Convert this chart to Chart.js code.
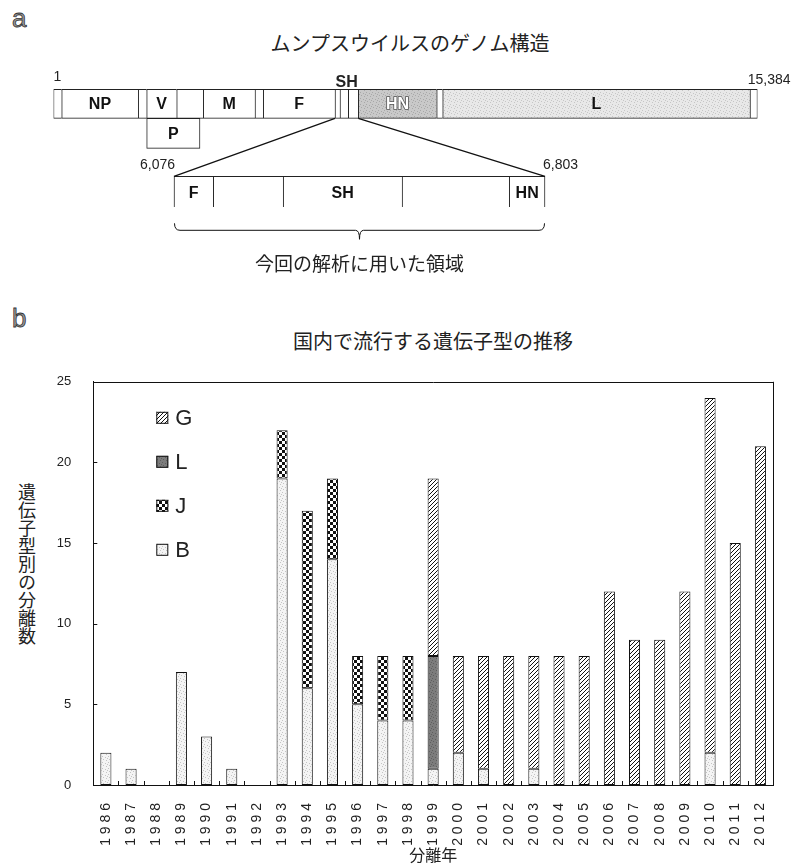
<!DOCTYPE html>
<html lang="ja">
<head>
<meta charset="utf-8">
<title>ムンプスウイルスのゲノム構造 / 国内で流行する遺伝子型の推移</title>
<script src="https://cdn.jsdelivr.net/npm/chart.js@4.4.1/dist/chart.umd.min.js"></script>
<style>
  body { margin: 0; background: #fff; }
  #page { position: relative; width: 791px; height: 867px; overflow: hidden; background: #fff;
          font-family: "Noto Sans CJK JP", "Noto Sans", sans-serif; color: #222; }
  .panel-letter { position: absolute; left: 12px; line-height: 1; font: 26px "Liberation Sans", sans-serif;
                  color: #999; -webkit-text-stroke: 0.8px #333; }
  .title { position: absolute; font-size: 20px; line-height: 1; white-space: nowrap; transform: translateX(-50%); }
  canvas { position: absolute; left: 0; }
  #ylabel { position: absolute; left: 18px; top: 483px; writing-mode: vertical-rl; font-size: 18px; line-height: 1; }
</style>
</head>
<body>
<div id="page">
  <div class="panel-letter" style="top:3px">a</div>
  <div class="title" style="left:410px; top:33px">ムンプスウイルスのゲノム構造</div>
  <canvas id="genome" width="791" height="250" style="top:50px"></canvas>

  <div class="panel-letter" style="top:303px">b</div>
  <div class="title" style="left:433px; top:331px">国内で流行する遺伝子型の推移</div>
  <div id="ylabel">遺伝子型別の分離数</div>
  <canvas id="types" width="791" height="507" style="top:360px"></canvas>
</div>

<script>
// ---------------- panel a : genome map (positions in nt) ----------------
const genomeLength = 15384;
const genomeBounds = [1, 180, 1853, 2037, 2693, 3274, 4404, 4585, 6152, 6261, 6443, 6661, 8374, 8505, 15220, 15384];
const genomeNames  = ['', 'NP', '', 'V', '', 'M', '', 'F', '', '', '', 'HN', '', 'L', ''];
const pGene = [2037, 3202];
const regionBounds = [6076, 6153, 6290, 6523, 6733, 6803];
const regionNames  = ['F', '', 'SH', '', 'HN'];
const mapRows = ['genome', 'P', '', 'region'];

// ---------------- panel b : genotypes per year ----------------
const years = ['1986','1987','1988','1989','1990','1991','1992','1993','1994','1995','1996','1997','1998','1999',
               '2000','2001','2002','2003','2004','2005','2006','2007','2008','2009','2010','2011','2012'];
const typeB = [2, 1, 0, 7, 3, 1, 0, 19, 6, 14, 5, 4, 4, 1, 2, 1, 0, 1, 0, 0, 0, 0, 0, 0, 2, 0, 0];
const typeJ = [0, 0, 0, 0, 0, 0, 0, 3, 11, 5, 3, 4, 4, 0, 0, 0, 0, 0, 0, 0, 0, 0, 0, 0, 0, 0, 0];
const typeL = [0, 0, 0, 0, 0, 0, 0, 0, 0, 0, 0, 0, 0, 7, 0, 0, 0, 0, 0, 0, 0, 0, 0, 0, 0, 0, 0];
const typeG = [0, 0, 0, 0, 0, 0, 0, 0, 0, 0, 0, 0, 0, 11, 6, 7, 8, 7, 8, 8, 12, 9, 9, 12, 22, 15, 21];
const yTicks = [0, 5, 10, 15, 20, 25];

const SANS = '"Liberation Sans", Arial, sans-serif';
const CJK = '"Noto Sans CJK JP", sans-serif';

//---- fill patterns (scanned-print look) ----
function makePattern(size, paint){
  const c = document.createElement('canvas');
  c.width = size; c.height = size;
  const g = c.getContext('2d');
  paint(g, size);
  return g.createPattern(c, 'repeat');
}
function stipple(base, dot, spots){
  return makePattern(6, (g) => {
    g.fillStyle = base; g.fillRect(0, 0, 6, 6);
    g.fillStyle = dot;
    spots.forEach(p => g.fillRect(p[0], p[1], 1, 1));
  });
}
const dots = [[0,0],[3,1],[1,3],[4,4],[5,2]];
const patB = stipple('#f4f4f4', '#c4c4c4', dots);
const patL = stipple('#7c7c7c', '#5e5e5e', dots);
const patHN = stipple('#c9c9c9', '#a8a8a8', dots);
const patLgene = stipple('#e8e8e8', '#c6c6c6', dots);
const patJ = makePattern(6, (g) => {
  g.fillStyle = '#fff'; g.fillRect(0, 0, 6, 6);
  g.fillStyle = '#111'; g.fillRect(0, 0, 3, 3); g.fillRect(3, 3, 3, 3);
});
const patG = makePattern(4, (g) => {
  g.fillStyle = '#fff'; g.fillRect(0, 0, 4, 4);
  g.strokeStyle = '#111'; g.lineWidth = 1;
  g.beginPath();
  g.moveTo(0, 4); g.lineTo(4, 0);
  g.moveTo(-1, 1); g.lineTo(1, -1);
  g.moveTo(3, 5); g.lineTo(5, 3);
  g.stroke();
});

//---- panel a layout (pixels) ----
const mapLeft = 53.5, mapRight = 757.5;      // genome bar ends
const zoomLeft = 174, zoomRight = 545;       // enlarged region ends
const ntPerPx = (regionBounds[regionBounds.length - 1] - regionBounds[0]) / (zoomRight - zoomLeft);
const x2Min = regionBounds[0] - (zoomLeft - mapLeft) * ntPerPx;
const x2Max = regionBounds[regionBounds.length - 1] + (mapRight - zoomRight) * ntPerPx;

function segs(bounds, row){
  const out = [];
  for (let i = 0; i < bounds.length - 1; i++) out.push({x: [bounds[i], bounds[i + 1]], y: row});
  return out;
}
function geneFill(name){
  if (name === 'HN') return patHN;
  if (name === 'L') return patLgene;
  return '#fff';
}
// left/top/bottom border on each piece, right only on the last, so joins stay 1px
function pieceBorder(count){
  return (ctx) => ({top: 1, bottom: 1, left: 1, right: ctx.dataIndex === count - 1 ? 1 : 0});
}

const mapDecor = {
  id: 'mapDecor',
  afterDatasetsDraw(chart){
    const ctx = chart.ctx;
    const sets = [genomeNames, ['P'], regionNames];
    ctx.save();
    ctx.textAlign = 'center'; ctx.textBaseline = 'middle';
    ctx.font = 'bold 16px ' + SANS;
    sets.forEach((names, di) => {
      chart.getDatasetMeta(di).data.forEach((el, i) => {
        const name = names[i];
        if (!name) return;
        const p = el.getCenterPoint();
        if (di === 0 && name === 'HN'){
          ctx.lineWidth = 1.6; ctx.strokeStyle = '#555';
          ctx.strokeText(name, p.x, p.y + 1);
          ctx.fillStyle = '#fff';
        } else {
          ctx.fillStyle = '#111';
        }
        ctx.fillText(name, p.x, p.y + 1);
      });
    });
    ctx.restore();
  },
  afterDraw(chart){
    const ctx = chart.ctx;
    const x = chart.scales.x, x2 = chart.scales.x2;
    const g = chart.getDatasetMeta(0).data[0];
    const z = chart.getDatasetMeta(2).data[0];
    const gTop = g.y - g.height / 2, gBottom = g.y + g.height / 2;
    const zTop = z.y - z.height / 2, zBottom = z.y + z.height / 2;
    const fEnd = genomeBounds[genomeNames.indexOf('F') + 1];
    const hnStart = genomeBounds[genomeNames.indexOf('HN')];
    const rA = x2.getPixelForValue(regionBounds[0]);
    const rB = x2.getPixelForValue(regionBounds[regionBounds.length - 1]);

    ctx.save();
    ctx.strokeStyle = '#111'; ctx.lineWidth = 1.3;
    ctx.beginPath();
    ctx.moveTo(x.getPixelForValue(fEnd), gBottom); ctx.lineTo(rA, zTop);
    ctx.moveTo(x.getPixelForValue(hnStart), gBottom); ctx.lineTo(rB, zTop);
    ctx.stroke();

    // brace under the enlarged region
    const bTop = zBottom + 15, bLine = bTop + 7, mid = (rA + rB) / 2;
    ctx.lineWidth = 1;
    ctx.beginPath();
    ctx.moveTo(rA + 0.5, bTop); ctx.quadraticCurveTo(rA + 0.5, bLine, rA + 6, bLine);
    ctx.lineTo(mid - 4, bLine); ctx.quadraticCurveTo(mid, bLine, mid, bLine + 9);
    ctx.moveTo(mid, bLine + 9); ctx.quadraticCurveTo(mid, bLine, mid + 4, bLine);
    ctx.lineTo(rB - 6, bLine); ctx.quadraticCurveTo(rB - 0.5, bLine, rB - 0.5, bTop);
    ctx.stroke();

    ctx.fillStyle = '#222'; ctx.textBaseline = 'middle';
    ctx.font = '14px ' + SANS;
    ctx.textAlign = 'left';
    ctx.fillText('1', x.getPixelForValue(1), gTop - 12);
    ctx.fillText('6,803', rB - 2, zTop - 11);
    ctx.textAlign = 'right';
    ctx.fillText('15,384', x.getPixelForValue(genomeLength) + 33, gTop - 9);
    ctx.fillText('6,076', rA + 1, zTop - 11);
    ctx.textAlign = 'center';
    ctx.font = 'bold 16px ' + SANS;
    ctx.fillText('SH', (x.getPixelForValue(fEnd) + x.getPixelForValue(hnStart)) / 2, gTop - 7);
    ctx.font = '19px ' + CJK;
    ctx.fillText('今回の解析に用いた領域', mid, bLine + 33);
    ctx.restore();
  }
};

new Chart(document.getElementById('genome'), {
  type: 'bar',
  data: {
    labels: mapRows,
    datasets: [
      {data: segs(genomeBounds, 'genome'), xAxisID: 'x', barThickness: 29,
       backgroundColor: genomeNames.map(geneFill), borderWidth: pieceBorder(genomeNames.length)},
      {data: segs(pGene, 'P'), xAxisID: 'x', barThickness: 30, backgroundColor: '#fff', borderWidth: 1},
      {data: segs(regionBounds, 'region'), xAxisID: 'x2', barThickness: 32,
       backgroundColor: '#fff', borderWidth: pieceBorder(regionNames.length)}
    ]
  },
  options: {
    indexAxis: 'y',
    responsive: false,
    animation: false,
    devicePixelRatio: 1,
    layout: {padding: {left: mapLeft, right: 791 - mapRight, top: 39.05, bottom: 92.95}},
    datasets: {bar: {grouped: false, borderColor: '#222', borderSkipped: false}},
    plugins: {legend: {display: false}, tooltip: {enabled: false}},
    scales: {
      x: {type: 'linear', display: false, min: 1, max: genomeLength},
      x2: {type: 'linear', display: false, min: x2Min, max: x2Max},
      y: {display: false}
    }
  },
  plugins: [mapDecor]
});

//---- panel b ----
const frameAndLegend = {
  id: 'frameAndLegend',
  afterDraw(chart){
    const ctx = chart.ctx;
    const a = chart.chartArea;
    const xs = chart.scales.x, ys = chart.scales.y;
    ctx.save();
    ctx.strokeStyle = '#111'; ctx.lineWidth = 1;
    ctx.beginPath();
    ctx.moveTo(a.left, Math.round(a.top) + 0.5); ctx.lineTo(a.right + 0.5, Math.round(a.top) + 0.5);
    ctx.moveTo(Math.round(a.right) + 0.5, a.top); ctx.lineTo(Math.round(a.right) + 0.5, a.bottom);
    // inward ticks
    yTicks.forEach(v => {
      const py = Math.round(ys.getPixelForValue(v)) + 0.5;
      ctx.moveTo(a.left, py); ctx.lineTo(a.left + 4, py);
    });
    for (let i = 1; i < years.length; i++){
      const px = Math.round((xs.getPixelForValue(i - 1) + xs.getPixelForValue(i)) / 2) + 0.5;
      ctx.moveTo(px, a.bottom); ctx.lineTo(px, a.bottom - 4);
    }
    ctx.stroke();

    // legend inside the plot, top item first
    const sets = chart.data.datasets.slice().reverse();
    ctx.textBaseline = 'middle'; ctx.textAlign = 'left';
    ctx.font = '22px ' + SANS;
    sets.forEach((ds, i) => {
      const cy = a.top + 36 + i * 44;
      const bx = a.left + 63;
      ctx.fillStyle = ds.backgroundColor;
      ctx.fillRect(bx, cy - 6, 12, 12);
      ctx.strokeRect(bx + 0.5, cy - 5.5, 11, 11);
      ctx.fillStyle = '#222';
      ctx.fillText(ds.label, bx + 19, cy + 1);
    });
    ctx.restore();
  }
};

const nz = v => v || null;

new Chart(document.getElementById('types'), {
  type: 'bar',
  data: {
    labels: years,
    datasets: [
      {label: 'B', data: typeB.map(nz), backgroundColor: patB},
      {label: 'J', data: typeJ.map(nz), backgroundColor: patJ},
      {label: 'L', data: typeL.map(nz), backgroundColor: patL},
      {label: 'G', data: typeG.map(nz), backgroundColor: patG}
    ]
  },
  options: {
    responsive: false,
    animation: false,
    devicePixelRatio: 1,
    layout: {padding: {top: 18, right: 18, bottom: 2, left: 0}},
    datasets: {bar: {borderColor: '#111', borderWidth: 1, borderSkipped: false,
                     categoryPercentage: 1, barPercentage: 0.44}},
    plugins: {legend: {display: false}, tooltip: {enabled: false}},
    scales: {
      x: {
        stacked: true,
        grid: {display: false},
        border: {display: true, color: '#111', width: 1},
        ticks: {minRotation: 90, maxRotation: 90, autoSkip: false, padding: 10, color: '#222',
                font: {family: SANS, size: 14},
                // the print sets the year digits widely spaced
                callback: (v, i) => years[i].split('').join(' ')},
        title: {display: true, text: '分離年', color: '#222', padding: 0, font: {family: CJK, size: 16}},
        afterFit(scale){ scale.height = 80; }
      },
      y: {
        stacked: true,
        min: 0, max: 25,
        grid: {display: false},
        border: {display: true, color: '#111', width: 1},
        ticks: {stepSize: 5, padding: 14, color: '#222', font: {family: SANS, size: 13}},
        afterFit(scale){ scale.width = 93.3; }
      }
    }
  },
  plugins: [frameAndLegend]
});
</script>
</body>
</html>
